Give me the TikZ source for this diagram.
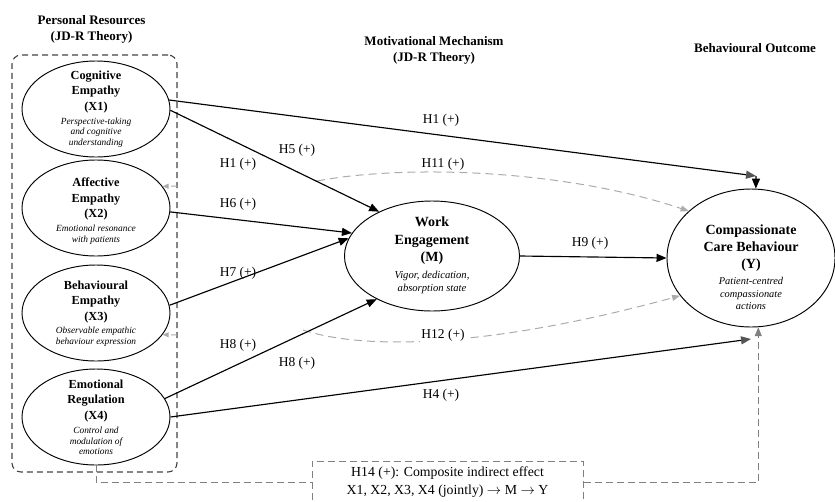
\documentclass[tikz,border=0pt]{standalone}
\usepackage{fontspec}
\setmainfont{Liberation Serif}
\usetikzlibrary{arrows.meta,shapes.geometric}
\definecolor{boxgray}{HTML}{444444}
\definecolor{lightdash}{HTML}{ABABAB}
\definecolor{midgray}{HTML}{808080}
\definecolor{tipgray}{HTML}{555555}
\begin{document}
\begin{tikzpicture}[x=1pt,y=-1pt,
  ell/.style={draw, ellipse, line width=0.95pt, inner sep=0pt},
  xell/.style={ell, minimum width=148pt, minimum height=96pt},
  xtitle/.style={align=center, font=\fontsize{12.3}{15.3}\selectfont\bfseries, inner sep=0pt},
  xdesc/.style={align=center, font=\fontsize{9.4}{10.6}\selectfont\itshape, inner sep=0pt},
  btitle/.style={align=center, font=\fontsize{14}{17.5}\selectfont\bfseries, inner sep=0pt},
  bdesc/.style={align=center, font=\fontsize{10.6}{13}\selectfont\itshape, inner sep=0pt},
  head/.style={align=center, font=\fontsize{13}{16}\selectfont\bfseries, inner sep=0pt},
  lab/.style={font=\fontsize{13.5}{16}\selectfont, inner sep=1pt},
  arr/.style={line width=1.15pt, -{Triangle[length=10pt,width=8pt]}},
  grayarr/.style={line width=1pt, lightdash, dash pattern=on 8pt off 5pt, -{Triangle[length=8pt,width=6pt]}},
  stubarr/.style={line width=1pt, lightdash, dash pattern=on 6pt off 3pt, -{Triangle[length=6pt,width=5pt]}},
  h14dash/.style={line width=1pt, midgray, dash pattern=on 7pt off 4pt}
]
\useasboundingbox (0,0) rectangle (835,501);

% headings
\node[head] (hd1) at (91.5,29.5) {Personal Resources\\(JD-R Theory)};
\node[head] (hd2) at (434,50) {Motivational Mechanism\\(JD-R Theory)};
\node[head] (hd3) at (755,48) {Behavioural Outcome};

% group box
\node[draw=boxgray, line width=1.1pt, dash pattern=on 6pt off 4pt, rounded corners=9pt,
      minimum width=165pt, minimum height=417pt, inner sep=0pt] (grp) at (94.5,263.5) {};

% X ellipses
\node[xell] (X1) at (96,109) {};
\node[xtitle] (X1t) at (96,92) {Cognitive\\Empathy\\(X1)};
\node[xdesc] (X1d) at (96,132.5) {Perspective-taking\\and cognitive\\understanding};

\node[xell] (X2) at (96,208) {};
\node[xtitle] (X2t) at (96,199) {Affective\\Empathy\\(X2)};
\node[xdesc] (X2d) at (96,235) {Emotional resonance\\with patients};

\node[xell] (X3) at (96,313) {};
\node[xtitle] (X3t) at (96,302) {Behavioural\\Empathy\\(X3)};
\node[xdesc] (X3d) at (96,336.5) {Observable empathic\\behaviour expression};

\node[xell] (X4) at (96,417) {};
\node[xtitle] (X4t) at (96,401) {Emotional\\Regulation\\(X4)};
\node[xdesc] (X4d) at (96,441) {Control and\\modulation of\\emotions};

% M
\node[ell, minimum width=175pt, minimum height=110pt] (M) at (432,256) {};
\node[btitle] (Mt) at (432,241) {Work\\Engagement\\(M)};
\node[bdesc] (Md) at (432,282.5) {Vigor, dedication,\\absorption state};

% Y
\node[ell, minimum width=168pt, minimum height=138pt] (Y) at (751,258) {};
\node[btitle, font=\fontsize{14}{17}\selectfont\bfseries] (Yt) at (751,248) {Compassionate\\Care Behaviour\\(Y)};
\node[bdesc, font=\fontsize{10.4}{12.5}\selectfont\itshape] (Yd) at (751,293.5) {Patient-centred\\compassionate\\actions};

% H14 box
\node[draw=midgray, line width=1pt, dash pattern=on 7pt off 4pt, minimum width=271pt,
      minimum height=42pt, inner sep=0pt, align=center,
      font=\fontsize{13.8}{18}\selectfont] (H14) at (447.5,482)
      {H14 (+): Composite indirect effect\\X1, X2, X3, X4 (jointly) $\rightarrow$ M $\rightarrow$ Y};

% coordinates for free ends
\coordinate (c1) at (756,176);
\coordinate (c4) at (751,339);
\coordinate (s11) at (177,186);
\coordinate (s12) at (177,335);
\coordinate (h11s) at (317,181);
\coordinate (h12s) at (303,330);

% gray dashed mediation paths
\draw[grayarr] (h11s) .. controls (400,165) and (560,168) .. (Y.143);
\draw[grayarr] (h12s) .. controls (370,352) and (500,345) .. (Y.208);
\draw[stubarr] (s11) -- (X2.18);
\draw[stubarr] (s12) -- (X3.-18);

% black paths
\draw[line width=1.15pt, -{Triangle[length=10pt,width=8pt,color=tipgray]}] (X1.7) -- (c1);
\draw[arr] (c1) -- (Y.86);
\draw[arr] (X1.-1) -- (M.140);
\draw[arr] (X2.-3) -- (M.164);
\draw[arr] (X3.6) -- (M.168);
\draw[arr] (X4.15) -- (M.218);
\draw[line width=1.15pt, -{Triangle[length=10pt,width=8pt,color=tipgray]}] (X4.0) -- (c4);
\draw[arr] (M.east) -- (Y.west);

% H14 connectors
\draw[h14dash] (X4.south) |- (H14.west);
\draw[h14dash, -{Triangle[length=9pt,width=7pt,color=midgray]}] (H14.east) -| (Y.-84);

% labels
\node[lab] (l1) at (441,120) {H1 (+)};
\node[lab] (l11) at (443,164) {H11 (+)};
\node[lab] (l5) at (297,150) {H5 (+)};
\node[lab] (l1b) at (238,164) {H1 (+)};
\node[lab] (l6) at (238,204) {H6 (+)};
\node[lab] (l9) at (590,243) {H9 (+)};
\node[lab] (l7) at (238,273) {H7 (+)};
\node[lab] (l8a) at (238,345) {H8 (+)};
\node[lab] (l8b) at (297,363) {H8 (+)};
\node[lab, fill=white] (l12) at (443,335) {H12 (+)};
\node[lab] (l4) at (441,395) {H4 (+)};
\end{tikzpicture}
\end{document}
